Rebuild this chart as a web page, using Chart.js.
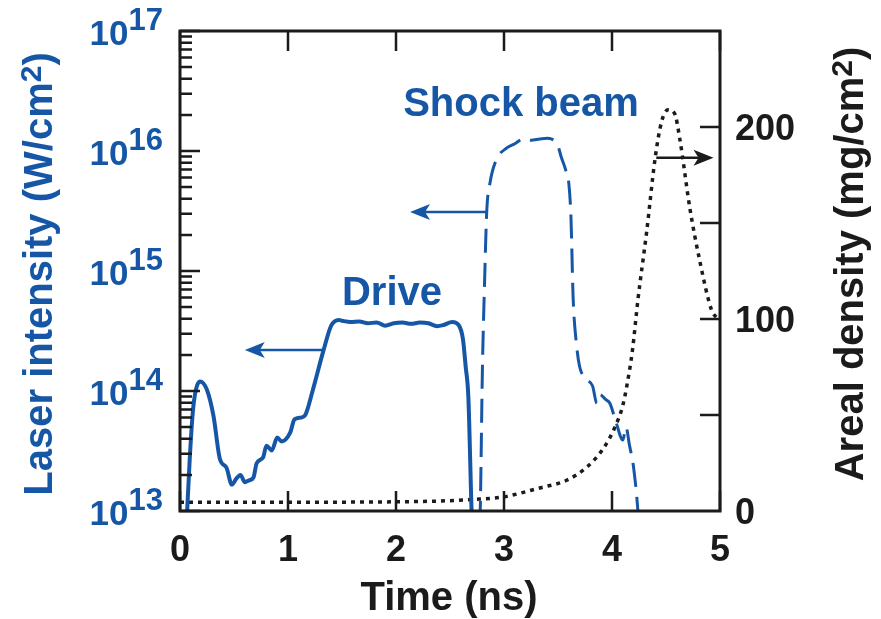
<html>
<head>
  <meta charset="UTF-8">
  <script src="https://cdn.jsdelivr.net/npm/chart.js@4.4.0/dist/chart.umd.min.js"></script>
  <style> body {padding: 0; margin: 0; background: #fff;} </style>
</head>

<body>

<canvas id="pulseChart" width="881" height="619"></canvas>

<script>

// drive pulse: time (ns) and intensity (W/cm2)
var driveTime = [0.05, 0.09, 0.12, 0.15, 0.185, 0.25, 0.31, 0.37, 0.43, 0.48, 0.52, 0.56, 0.60, 0.64, 0.68,
                 0.71, 0.77, 0.80, 0.85, 0.90, 0.94, 1.02, 1.06, 1.12, 1.16, 1.23, 1.33, 1.40, 1.47, 1.50,
                 1.58, 1.66, 1.74, 1.82, 1.90, 1.98, 2.06, 2.14, 2.22, 2.30, 2.38, 2.44, 2.52, 2.58, 2.62,
                 2.645, 2.67, 2.70, 2.72];
var driveIntensity = [5e12, 2.7e13, 6.9e13, 1.05e14, 1.2e14, 1.02e14, 6.2e13, 2.7e13, 2.3e13, 1.66e13, 1.85e13, 2.0e13, 1.74e13, 1.8e13, 1.9e13,
                      2.5e13, 2.8e13, 3.5e13, 3.2e13, 4.1e13, 3.8e13, 4.5e13, 5.8e13, 6.0e13, 6.3e13, 1.02e14, 2.2e14, 3.5e14, 3.9e14, 3.85e14,
                      3.76e14, 3.8e14, 3.67e14, 3.72e14, 3.5e14, 3.67e14, 3.72e14, 3.63e14, 3.72e14, 3.67e14, 3.47e14, 3.55e14, 3.76e14, 3.55e14, 2.7e14,
                      1.6e14, 8.9e13, 1.0e13, 4e12];

// shock beam
var shockTime = [2.76, 2.78, 2.80, 2.82, 2.84, 2.87, 2.93, 3.02, 3.10, 3.18, 3.25, 3.33, 3.40, 3.44, 3.50,
                 3.53, 3.57, 3.60, 3.62, 3.64, 3.67, 3.70, 3.76, 3.82, 3.86, 3.89, 3.94, 3.98, 4.04, 4.10,
                 4.13, 4.16, 4.20, 4.24, 4.26];
var shockIntensity = [4e12, 1e13, 1.5e14, 8e14, 3.1e15, 5.4e15, 8.5e15, 1.05e16, 1.15e16, 1.26e16, 1.23e16, 1.26e16, 1.28e16, 1.26e16, 1.1e16,
                      8.9e15, 7e15, 5.4e15, 2.8e15, 6e14, 2.5e14, 1.6e14, 1.26e14, 1.1e14, 7.9e13, 9.3e13, 8.5e13, 7.9e13, 5.4e13, 3.9e13,
                      5.0e13, 3.6e13, 2.3e13, 1e13, 5e12];

// areal density (mg/cm2)
var arealTime = [0, 0.5, 1.0, 1.5, 2.0, 2.41, 2.7, 2.99, 3.33, 3.58, 3.77, 3.92, 4.03, 4.10, 4.14,
                 4.19, 4.24, 4.32, 4.40, 4.46, 4.52, 4.58, 4.63, 4.72, 4.81, 4.92, 4.98];
var arealDensity = [4.5, 4.5, 4.5, 4.6, 4.8, 5.2, 6, 7.3, 12, 16, 23, 32.6, 44, 55, 66,
                    84, 110, 145, 184, 203, 209, 207, 193, 158, 131, 105, 100];

// axis ticks
var timeTicks = [0, 1, 2, 3, 4, 5];
var intensityDecades = [13, 14, 15, 16, 17];
var arealTickMarks = [50, 100, 150, 200];
var arealTickLabels = [0, 100, 200];

var blue = '#1557a6';
var ink = '#1b1b1b';
var face = "'Liberation Sans', Arial, sans-serif";

function points(xs, ys) {
    return xs.map(function (x, i) { return {x: x, y: ys[i]}; });
}

// draws a run of [text, font, rise] pieces starting at x
function drawPieces(ctx, pieces, x, y, align) {
    var total = 0;
    pieces.forEach(function (p) { ctx.font = p[1]; total += ctx.measureText(p[0]).width; });
    var cx = x;
    if (align == 'center') cx = x - total / 2;
    if (align == 'right') cx = x - total;
    ctx.textAlign = 'left';
    ctx.textBaseline = 'alphabetic';
    pieces.forEach(function (p) {
        ctx.font = p[1];
        ctx.fillText(p[0], cx, y - p[2]);
        cx += ctx.measureText(p[0]).width;
    });
}

function arrow(ctx, x1, y, x2, color) {
    var dir = x2 > x1 ? 1 : -1;
    ctx.strokeStyle = color;
    ctx.fillStyle = color;
    ctx.lineWidth = 2.5;
    ctx.beginPath();
    ctx.moveTo(x1, y);
    ctx.lineTo(x2 - dir * 10, y);
    ctx.stroke();
    ctx.beginPath();
    ctx.moveTo(x2, y);
    ctx.lineTo(x2 - dir * 20, y - 8);
    ctx.lineTo(x2 - dir * 15, y);
    ctx.lineTo(x2 - dir * 20, y + 8);
    ctx.closePath();
    ctx.fill();
}

var framePlugin = {
    id: 'frameAndLabels',
    afterDatasetsDraw: function (chart) {
        var ctx = chart.ctx, a = chart.chartArea;
        var xs = chart.scales.x, ys = chart.scales.y, ys2 = chart.scales.y2;
        ctx.save();

        ctx.strokeStyle = ink;
        ctx.lineWidth = 3;
        ctx.strokeRect(a.left, a.top, a.right - a.left, a.bottom - a.top);

        // inward tick marks
        ctx.lineWidth = 2.5;
        ctx.beginPath();
        timeTicks.forEach(function (t) {
            var px = xs.getPixelForValue(t);
            ctx.moveTo(px, a.bottom); ctx.lineTo(px, a.bottom - 20);
            ctx.moveTo(px, a.top); ctx.lineTo(px, a.top + 20);
        });
        intensityDecades.forEach(function (e) {
            var py = ys.getPixelForValue(Math.pow(10, e));
            ctx.moveTo(a.left, py); ctx.lineTo(a.left + 20, py);
            if (e < 17) {
                for (var m = 2; m <= 9; m++) {
                    var pm = ys.getPixelForValue(m * Math.pow(10, e));
                    ctx.moveTo(a.left, pm); ctx.lineTo(a.left + 12, pm);
                }
            }
        });
        arealTickMarks.forEach(function (v) {
            var py = ys2.getPixelForValue(v);
            ctx.moveTo(a.right, py); ctx.lineTo(a.right - 20, py);
        });
        ctx.stroke();

        // tick labels
        ctx.fillStyle = ink;
        timeTicks.forEach(function (t) {
            drawPieces(ctx, [[String(t), 'bold 36px ' + face, 0]], xs.getPixelForValue(t), a.bottom + 50, 'center');
        });
        arealTickLabels.forEach(function (v) {
            drawPieces(ctx, [[String(v), 'bold 36px ' + face, 0]], a.right + 15, ys2.getPixelForValue(v) + 13, 'left');
        });
        ctx.fillStyle = blue;
        intensityDecades.forEach(function (e) {
            var py = ys.getPixelForValue(Math.pow(10, e));
            drawPieces(ctx, [['10', 'bold 35px ' + face, 0], [String(e), 'bold 31px ' + face, 15]],
                       a.left - 17, py + 14, 'right');
        });

        // axis titles
        ctx.fillStyle = ink;
        drawPieces(ctx, [['Time (ns)', 'bold 40px ' + face, 0]], (a.left + a.right) / 2 - 1, 610, 'center');

        ctx.save();
        ctx.translate(52, 274);
        ctx.rotate(-Math.PI / 2);
        ctx.fillStyle = blue;
        drawPieces(ctx, [['Laser intensity (W/cm', 'bold 40px ' + face, 0], ['2', 'bold 30px ' + face, 11],
                         [')', 'bold 40px ' + face, 0]], 0, 0, 'center');
        ctx.restore();

        ctx.save();
        ctx.translate(863, 264);
        ctx.rotate(-Math.PI / 2);
        ctx.fillStyle = ink;
        drawPieces(ctx, [['Areal density (mg/cm', 'bold 40px ' + face, 0], ['2', 'bold 30px ' + face, 11],
                         [')', 'bold 40px ' + face, 0]], 0, 0, 'center');
        ctx.restore();

        // curve labels and arrows
        ctx.fillStyle = blue;
        drawPieces(ctx, [['Shock beam', 'bold 40px ' + face, 0]], xs.getPixelForValue(3.157), ys.getPixelForValue(1.95e16), 'center');
        drawPieces(ctx, [['Drive', 'bold 40px ' + face, 0]], xs.getPixelForValue(1.963), ys.getPixelForValue(5.2e14), 'center');

        arrow(ctx, xs.getPixelForValue(1.32), ys.getPixelForValue(2.2e14), xs.getPixelForValue(0.6), blue);
        arrow(ctx, xs.getPixelForValue(2.84), ys.getPixelForValue(3.1e15), xs.getPixelForValue(2.13), blue);
        arrow(ctx, xs.getPixelForValue(4.41), ys2.getPixelForValue(184), xs.getPixelForValue(4.94), ink);

        ctx.restore();
    }
};

var ctx = document.getElementById('pulseChart').getContext('2d');
var pulseChart = new Chart(ctx, {
    type: 'line',
    data: {
        datasets: [{
            label: 'Drive',
            data: points(driveTime, driveIntensity),
            yAxisID: 'y',
            borderColor: blue,
            borderWidth: 4,
            cubicInterpolationMode: 'monotone',
            clip: 0
        }, {
            label: 'Shock beam',
            data: points(shockTime, shockIntensity),
            yAxisID: 'y',
            borderColor: blue,
            borderWidth: 3,
            borderDash: [24, 10],
            cubicInterpolationMode: 'monotone',
            clip: 0
        }, {
            label: 'Areal density',
            data: points(arealTime, arealDensity),
            yAxisID: 'y2',
            borderColor: ink,
            borderWidth: 3.5,
            borderDash: [4, 5],
            cubicInterpolationMode: 'monotone',
            clip: 0
        }]
    },
    options: {
        responsive: false,
        animation: false,
        devicePixelRatio: 1,
        layout: {padding: {left: 180, right: 161, top: 31, bottom: 108}},
        elements: {point: {radius: 0}},
        plugins: {legend: {display: false}, tooltip: {enabled: false}},
        scales: {
            x: {type: 'linear', min: 0, max: 5, display: false},
            y: {type: 'logarithmic', min: 1e13, max: 1e17, display: false},
            y2: {type: 'linear', min: 0, max: 250, display: false}
        }
    },
    plugins: [framePlugin]
});

</script>
</body>
</html>
